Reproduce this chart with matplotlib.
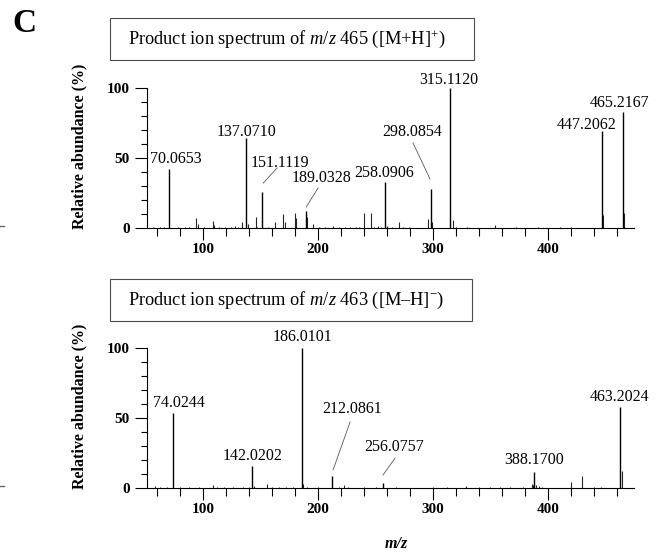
import matplotlib
matplotlib.use('Agg')
import matplotlib.pyplot as plt
from matplotlib.patches import Rectangle
from matplotlib.lines import Line2D
from matplotlib.ticker import MultipleLocator

plt.rcParams['font.family'] = 'serif'
plt.rcParams['font.serif'] = ['Liberation Serif', 'DejaVu Serif']
plt.rcParams['mathtext.fontset'] = 'custom'
plt.rcParams['mathtext.rm'] = 'Liberation Serif'
plt.rcParams['mathtext.it'] = 'Liberation Serif:italic'
plt.rcParams['mathtext.bf'] = 'Liberation Serif:bold'

##### positive mode, [M+H]+ 465 #####
pos_label_mz = [70.0653, 137.0710, 151.1119, 189.0328, 258.0906, 298.0854, 315.1120, 447.2062, 465.2167]
pos_label_int = [42, 64, 26, 12, 33, 28, 100, 69, 83]
pos_minor_mz = [56, 62, 66, 78, 84, 88, 94, 95.5, 101, 108.5, 109.5, 114, 119, 124, 128, 130, 134, 138.5,
                146, 147, 156, 162.5, 169.5, 171.5, 179.5, 181, 190.5, 195.5, 201, 206, 213, 218, 223, 228,
                233, 236, 240, 246, 249, 252, 255, 260, 264, 270, 274, 279, 296, 299, 317, 320, 330, 354,
                372, 391, 411, 420, 448, 466]
pos_minor_int = [1, 0.8, 0.7, 0.8, 1, 0.7, 7.5, 3, 0.8, 5, 2, 0.7, 1, 0.8, 1.5, 1, 4.5, 3,
                 8, 1, 1, 4, 10, 4, 11, 7, 8, 3, 1, 1, 1.2, 0.8, 1, 0.8,
                 0.7, 1, 11, 11, 1, 1.5, 1, 1.5, 1, 4, 1, 0.8, 6.5, 4, 6, 1, 0.8, 2,
                 0.8, 0.8, 0.8, 0.8, 9, 11]

##### negative mode, [M-H]- 463 #####
neg_label_mz = [74.0244, 142.0202, 186.0101, 212.0861, 256.0757, 388.1700, 463.2024]
neg_label_int = [53.5, 16, 100, 8.5, 3.5, 11.5, 58]
neg_minor_mz = [58, 62, 68, 80, 88, 96, 108.5, 112, 118, 126, 135, 140, 144, 155.5, 160, 166, 172, 178,
                187, 190, 200, 218, 222.5, 226, 240, 250, 268, 300, 312, 328.5, 340, 350, 358, 367, 378,
                386, 387, 390, 392, 395, 420, 429.5, 440, 446, 464.3]
neg_minor_int = [1.5, 0.7, 0.7, 0.8, 0.6, 0.7, 2, 1, 0.8, 0.7, 0.8, 1, 1.5, 3, 1, 0.8, 0.8, 0.8,
                 3, 1, 0.8, 1, 2.5, 1, 0.8, 1, 0.8, 0.8, 1, 1.5, 0.8, 0.8, 1, 1, 1,
                 3, 2, 2, 1.5, 1, 4.5, 8.5, 1, 1, 12]

# text centre of each label (data units) and optional leader line end
pos_text_xy = [(76.5, 49.3), (137.4, 68.6), (167, 46.4), (203, 35.7), (257.4, 39.3),
               (281.7, 68.6), (313.9, 105.7), (433.9, 73.6), (462.6, 89.3)]
pos_leader = [None, None, ((164.3, 42.9), (152.2, 32.1)), ((200, 28.6), (189.6, 15)), None,
              ((282.6, 60.7), (297.4, 35)), None, None, None]
neg_text_xy = [(79.1, 60.7), (142.6, 22.9), (186.1, 107.9), (229.6, 56.4), (266, 29.3),
               (387.8, 20), (462.6, 65)]
neg_leader = [None, None, None, ((227.8, 47.1), (213, 12.9)), ((267, 21.4), (256.5, 9.3)), None, None]


def draw_panel(ax, lab_mz, lab_int, min_mz, min_int, text_xy, leaders):
    ax.vlines(min_mz, 0, min_int, color='0.15', lw=0.8)
    ax.vlines(lab_mz, 0, lab_int, color='black', lw=1.0)
    for i in range(len(lab_mz)):
        ax.text(text_xy[i][0], text_xy[i][1], '%.4f' % lab_mz[i], ha='center', va='center',
                fontsize=11.5, clip_on=False)
        if leaders[i] is not None:
            (x0, y0), (x1, y1) = leaders[i]
            ax.plot([x0, x1], [y0, y1], color='0.35', lw=0.6, clip_on=False)
    ax.set_xlim(51, 475)
    ax.set_ylim(0, 100)
    for s in ['top', 'right']:
        ax.spines[s].set_visible(False)
    for s in ['left', 'bottom']:
        ax.spines[s].set_linewidth(0.8)
    ax.set_xticks([100, 200, 300, 400])
    ax.set_xticklabels(['100', '200', '300', '400'], fontweight='bold', fontsize=11)
    ax.set_yticks([0, 50, 100])
    ax.set_yticklabels(['0', '50', '100'], fontweight='bold', fontsize=11)
    ax.xaxis.set_minor_locator(MultipleLocator(20))
    ax.yaxis.set_minor_locator(MultipleLocator(10))
    ax.tick_params(which='both', direction='out', width=0.8)
    ax.tick_params(axis='x', which='major', length=8.5, pad=2)
    ax.tick_params(axis='x', which='minor', length=6)
    ax.tick_params(axis='y', which='major', length=8.5, pad=4)
    ax.tick_params(axis='y', which='minor', length=4.5)
    ax.set_ylabel('Relative abundance (%)', fontweight='bold', fontsize=11.5)
    ax.yaxis.set_label_coords(-0.123, 0.58)


W, H = 666, 555
fig = plt.figure(figsize=(6.66, 5.55), dpi=100)
ax1 = fig.add_axes([147 / W, 1 - 228 / H, 487 / W, 140 / H])
ax2 = fig.add_axes([147 / W, 1 - 488 / H, 487 / W, 140 / H])

draw_panel(ax1, pos_label_mz, pos_label_int, pos_minor_mz, pos_minor_int, pos_text_xy, pos_leader)
draw_panel(ax2, neg_label_mz, neg_label_int, neg_minor_mz, neg_minor_int, neg_text_xy, neg_leader)

# title boxes
fig.add_artist(Rectangle((110 / W, 1 - 60 / H), 364 / W, 42 / H, transform=fig.transFigure,
                         fill=False, lw=0.8, ec='0.3'))
fig.text(128 / W, 1 - 39 / H, 'Product ion spectrum of $m/z$ 465 ([M+H]$^{+}$)', va='center', fontsize=13.2)
fig.add_artist(Rectangle((110 / W, 1 - 321 / H), 362 / W, 42 / H, transform=fig.transFigure,
                         fill=False, lw=0.8, ec='0.3'))
fig.text(128 / W, 1 - 300 / H, 'Product ion spectrum of $m/z$ 463 ([M\u2013H]$^{-}$)', va='center', fontsize=13.2)

fig.text(12 / W, 1 - 23 / H, 'C', fontsize=24, fontweight='bold', va='center', ha='left')
fig.text(396 / W, 1 - 544 / H, 'm/z', fontsize=11.5, fontweight='bold', fontstyle='italic',
         ha='center', va='center')

# small marks at the left edge
for yy in [226, 486]:
    fig.add_artist(Line2D([0, 4 / W], [1 - yy / H, 1 - yy / H], transform=fig.transFigure,
                          color='0.4', lw=1))

fig.savefig('out.png', dpi=100)
